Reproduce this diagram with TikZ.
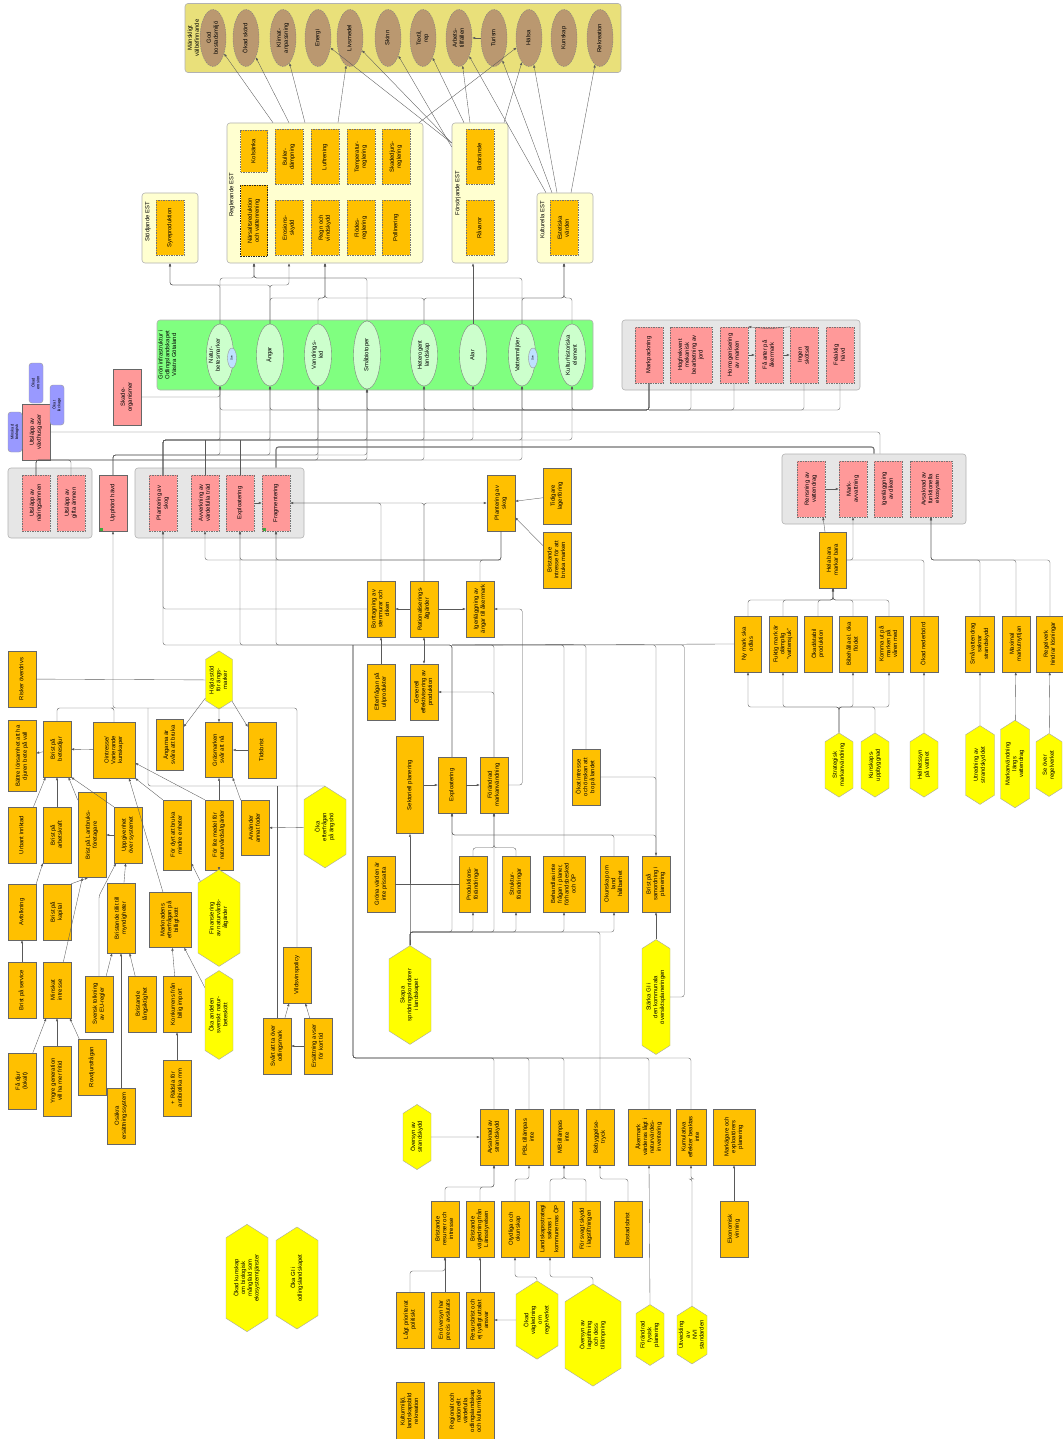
\documentclass[tikz,border=0pt]{standalone}
\usepackage{fontspec}
\setmainfont{Liberation Sans}
\usepackage{graphicx}
\usetikzlibrary{arrows.meta, shapes.geometric, shapes.symbols}
\definecolor{GoodsPanel}{RGB}{233,224,122}
\definecolor{GoodsFill}{RGB}{186,152,112}
\definecolor{EstPanel}{RGB}{255,255,208}
\definecolor{EstOrange}{RGB}{255,192,0}
\definecolor{PressPink}{RGB}{255,153,153}
\definecolor{InfraGreen}{RGB}{128,255,128}
\definecolor{InfraLight}{RGB}{204,255,204}
\definecolor{PanelGray}{RGB}{230,230,230}
\definecolor{ActYellow}{RGB}{255,255,0}
\definecolor{NoteBlue}{RGB}{153,153,255}
\definecolor{SubBlue}{RGB}{190,225,255}
\definecolor{MarkGreen}{RGB}{60,170,60}
\newcommand{\vt}[1]{\rotatebox{90}{\begin{tabular}{@{}c@{}}#1\end{tabular}}}

\begin{document}
\begin{tikzpicture}[
    x=1pt, y=-1pt,
    font=\fontsize{5.9}{6.8}\selectfont,
    sz/.style 2 args={minimum width=#1pt, minimum height=#2pt},
    panel/.style={draw=black!30, line width=0.6pt, rounded corners=3pt, inner sep=0pt},
    goodsbox/.style={panel, fill=GoodsPanel},
    estbox/.style={panel, fill=EstPanel},
    greenbox/.style={panel, fill=InfraGreen},
    graybox/.style={panel, fill=PanelGray},
    paneltitle/.style={inner sep=0pt},
    good/.style={ellipse, draw=black!50, dash pattern=on 1.5pt off 1pt, fill=GoodsFill, inner sep=0pt, sz={26}{57}},
    infra/.style={ellipse, draw=black!50, fill=InfraLight, inner sep=0pt, sz={27}{62}},
    sub/.style={ellipse, draw=black!40, fill=SubBlue, inner sep=0pt, sz={9}{20}, font=\fontsize{3}{3.5}\selectfont},
    service/.style={draw=black!55, dash pattern=on 1.5pt off 1pt, fill=EstOrange, inner sep=0pt, sz={28}{55}},
    pressure/.style={draw=black!55, dash pattern=on 1.5pt off 1pt, fill=PressPink, inner sep=0pt, sz={28}{56}},
    effect/.style={draw=black!60, fill=PressPink, inner sep=0pt, sz={28}{56}},
    note/.style={draw=black!40, fill=NoteBlue, rounded corners=3pt, inner sep=0pt, sz={14}{40}, font=\fontsize{4}{4.6}\selectfont},
    cause/.style={draw=black!60, fill=EstOrange, inner sep=0pt, sz={28}{56}},
    action/.style={signal, signal to=north and south, signal pointer angle=115, draw=black!35, fill=ActYellow, inner sep=0pt, sz={28}{56}},
    flag/.style={fill=MarkGreen, minimum size=3pt, inner sep=0pt},
    link/.style={draw=black!65, line width=0.35pt, rounded corners=2.5pt, -{Latex[length=3pt, width=2.4pt]}},
    twoway/.style={{Latex[length=3pt, width=2.4pt]}-{Latex[length=3pt, width=2.4pt]}},
    wire/.style={draw=black!65, line width=0.35pt, rounded corners=2.5pt},
    thickwire/.style={draw=black!55, line width=1.1pt, rounded corners=2.5pt},
]
\fill[white] (0,0) rectangle (1062,1439);
\useasboundingbox (0,0) rectangle (1062,1439);

% paneler
\node[goodsbox, sz={436}{69}] (goods) at (403,38) {};
\node[paneltitle] at (194,38) {\vt{Mänskligt\\välbefinnande}};
\node[estbox, sz={56}{70}] (stod) at (170,228) {};
\node[paneltitle] at (148,222) {\vt{Stödjande EST}};
\node[estbox, sz={196}{140}] (reg) at (325,193) {};
\node[paneltitle] at (232,195) {\vt{Reglerande EST}};
\node[estbox, sz={56}{140}] (fors) at (480,193) {};
\node[paneltitle] at (458,193) {\vt{Försörjande EST}};
\node[estbox, sz={56}{70}] (kult) at (565,228) {};
\node[paneltitle] at (543,220) {\vt{Kulturella EST}};
\node[greenbox, sz={436}{70}] (infra) at (375,355) {};
\node[paneltitle] at (168,355) {\vt{Grön infrastruktur i\\Odlingslandskapet\\Västra Götaland}};
\node[graybox, sz={238}{70}] (tryckA) at (741,355) {};
\node[graybox, sz={84}{70}] (tryckB) at (50,503) {};
\node[graybox, sz={169}{70}] (tryckC) at (219.5,503) {};
\node[graybox, sz={184}{70}] (tryckD) at (874,489) {};

% mänskligt välbefinnande
\node[good] (g1) at (213,38) {\vt{God\\bostadsmiljö}};
\node[good] (g2) at (246,38) {\vt{Ökad skörd}};
\node[good] (g3) at (283,38) {\vt{Klimat-\\anpassning}};
\node[good] (g4) at (318,38) {\vt{Energi}};
\node[good] (g5) at (350,38) {\vt{Livsmedel}};
\node[good] (g6) at (388,38) {\vt{Skinn}};
\node[good] (g7) at (423,38) {\vt{Textil,\\rep}};
\node[good] (g8) at (459,38) {\vt{Arbets-\\tillfällen}};
\node[good] (g9) at (494,38) {\vt{Turism}};
\node[good] (g10) at (529,38) {\vt{Hälsa}};
\node[good] (g11) at (564,38) {\vt{Kunskap}};
\node[good] (g12) at (600,38) {\vt{Rekreation}};

% ekosystemtjänster
\node[service, sz={27}{42}] (kolsanka) at (254,151) {\vt{Kolsänka}};
\node[service] (buller) at (289,157) {\vt{Buller-\\dämpning}};
\node[service] (luft) at (325,157) {\vt{Luftrening}};
\node[service] (temp) at (361,157) {\vt{Temperatur-\\reglering}};
\node[service] (skadedj) at (396,157) {\vt{Skadedjurs-\\reglering}};
\node[service, sz={27}{71}, draw=black!85] (narsalt) at (254,221) {\vt{Närsaltsreduktion\\och vattenrening}};
\node[service] (erosion) at (289,228) {\vt{Erosions-\\skydd}};
\node[service] (regn) at (325,228) {\vt{Regn och\\vindskydd}};
\node[service] (flodes) at (361,228) {\vt{Flödes-\\reglering}};
\node[service] (pollin) at (396,228) {\vt{Pollinering}};
\node[service] (syre) at (170,228) {\vt{Syreproduktion}};
\node[service] (bio) at (480,157) {\vt{Biobränsle}};
\node[service] (ravara) at (480,228) {\vt{Råvaror}};
\node[service] (estet) at (564,228) {\vt{Estetiska\\värden}};

% grön infrastruktur
\node[infra] (natbete) at (220,355) {};
\node[sub] (natsub) at (232,358) {\vt{Sve}};
\node[paneltitle] at (215,355) {\vt{Natur-\\betesmarker}};
\node[infra] (angar) at (270,355) {\vt{Ängar}};
\node[infra] (vandr) at (318,355) {\vt{Vandrings-\\led}};
\node[infra, sz={27}{68}] (smabio) at (367,355) {\vt{Småbiotoper}};
\node[infra] (hetero) at (424,355) {\vt{Heterogent\\landskap}};
\node[infra] (alar) at (473,355) {\vt{Alar}};
\node[infra] (vatten) at (522,355) {};
\node[sub] (vatsub) at (533,358) {\vt{Sve}};
\node[paneltitle] at (518,355) {\vt{Vattenmiljöer}};
\node[infra] (kulthist) at (572,355) {\vt{Kulturhistoriska\\element}};

% påverkan, övre högra panelen
\node[pressure] (markpack) at (649,355) {\vt{Markpackning}};
\node[pressure, sz={42}{56}] (hogfrek) at (691,355) {\vt{Högfrekvent\\mekanisk\\bearbetning av\\jord}};
\node[pressure] (homogen) at (734,355) {\vt{Homogenisering\\av marken}};
\node[pressure] (faarter) at (769,355) {\vt{Få arter på\\åkermark}};
\node[pressure] (skotsel) at (804,355) {\vt{Ingen\\skötsel}};
\node[pressure] (felhavd) at (840,355) {\vt{Felaktig\\hävd}};

% påverkan, vänster
\node[effect] (vaxthus) at (36,432) {\vt{Utsläpp av\\växthusgaser}};
\node[note] (ok1) at (36,383) {\vt{Ökad\\erosion}};
\node[note] (ok2) at (57,405) {\vt{Ökat\\läckage}};
\node[note] (ok3) at (15,432) {\vt{Minskad\\biologisk}};
\node[effect] (skade) at (127,397) {\vt{Skade-\\organismer}};
\node[pressure] (naring) at (36,503) {\vt{Utsläpp av\\näringsämnen}};
\node[pressure] (gift) at (71,503) {\vt{Utsläpp av\\gifta ämnen}};
\node[effect] (upphord) at (113,503) {\vt{Upphörd hävd}};
\node[flag] at (101,529) {};
\node[pressure] (plantL) at (163,503) {\vt{Plantering av\\skog}};
\node[pressure] (avverk) at (205,503) {\vt{Avverkning av\\värdefulla träd}};
\node[pressure] (exploL) at (240,503) {\vt{Exploatering}};
\node[pressure] (fragm) at (276,503) {\vt{Fragmentering}};
\node[flag] at (264,529) {};

% orsaker, mitten
\node[cause] (plantR) at (501,503) {\vt{Plantering av\\skog}};
\node[cause] (tidigare) at (557,496) {\vt{Tidigare\\lagerföring}};
\node[cause] (bristint) at (557,560) {\vt{Bristande\\intresse för att\\bruka marken}};
\node[cause] (borttag) at (381,609) {\vt{Borttagning av\\stenmurar och\\diken}};
\node[cause] (ration) at (424,609) {\vt{Rationaliserings-\\åtgärder}};
\node[cause] (igenv) at (480,609) {\vt{Igenläggning av\\ängar till åkermark}};
\node[cause] (efterfr) at (381,692) {\vt{Efterfrågan på\\ullprodukter}};
\node[cause] (generell) at (424,692) {\vt{Generell\\effektivisering av\\produktion}};
\node[cause, sz={27}{97}] (sektoriell) at (410,785) {\vt{Sektoriell planering}};
\node[cause] (exploM) at (452,785) {\vt{Exploatering}};
\node[cause] (forandr) at (494,785) {\vt{Förändrad\\markanvändning}};
\node[cause] (okatint) at (586,777) {\vt{Ökat intresse\\och önskan att\\bo på landet}};
\node[cause] (grona) at (381,884) {\vt{Gröna värden är\\inte prissatta}};
\node[cause] (prodf) at (473,884) {\vt{Produktions-\\förändringar}};
\node[cause] (strukf) at (516,884) {\vt{Struktur-\\förändringar}};
\node[cause, sz={42}{56}] (behandl) at (564,884) {\vt{Behandlas inte\\frågan i planer,\\förhandsbesked\\och ÖP}};
\node[cause] (okunskap) at (614,884) {\vt{Okunskap om\\land\\hållbarhet}};
\node[cause] (bristsam) at (656,884) {\vt{Brist på\\samordning i\\planering}};
\node[action, sz={42}{85}] (skapa) at (410,995) {\vt{Skapa\\spridningskorridorer\\i landskapet}};
\node[action, sz={28}{110}] (starka) at (656,997) {\vt{Stärka GI i\\den kommunala\\översiktsplaneringen}};

% orsaker, nederst
\node[action] (oversynStr) at (417,1137) {\vt{Översyn av\\strandskydd}};
\node[cause] (avsaknad) at (494,1137) {\vt{Avsaknad av\\strandskydd}};
\node[cause] (pbl) at (529,1137) {\vt{PBL tillämpas\\inte}};
\node[cause] (mb) at (564,1137) {\vt{MB tillämpas\\inte}};
\node[cause] (bebygg) at (600,1137) {\vt{Bebyggelse-\\tryck}};
\node[cause, sz={42}{56}] (akermark) at (649,1137) {\vt{Åkermark\\värderas lågt i\\naturvärdes-\\inventering}};
\node[cause, sz={30}{56}] (kumul) at (691,1137) {\vt{Kumulativa\\effekter beaktas\\inte}};
\node[cause, sz={42}{56}] (markag) at (734,1137) {\vt{Markägare och\\exploatörers\\planering}};
\node[cause] (bristres) at (445,1229) {\vt{Bristande\\resurser och\\intresse}};
\node[cause] (bristvag) at (480,1229) {\vt{Bristande\\vägledning från\\Länsstyrelsen}};
\node[cause] (otydl) at (515,1229) {\vt{Otydliga och\\okunskap}};
\node[cause] (landsk) at (550,1229) {\vt{Landskapsstrategi\\saknas i\\kommunernas ÖP}};
\node[cause] (svagt) at (586,1229) {\vt{För svagt skydd\\i lagstiftningen}};
\node[cause] (bostad) at (628,1229) {\vt{Bostadsbrist}};
\node[cause] (ekon) at (734,1229) {\vt{Ekonomisk\\vinning}};
\node[cause] (lagtprio) at (410,1320) {\vt{Lågt prioriterat\\politiskt}};
\node[cause] (enoversyn) at (445,1320) {\vt{En översyn har\\precis avslutats}};
\node[cause] (resursbrist) at (480,1320) {\vt{Resursbrist och\\ej tydligt uttalat\\ansvar}};
\node[action, sz={42}{69}] (okadvag) at (537,1320) {\vt{Ökad\\vägledning\\om\\regelverket}};
\node[action, sz={56}{84}] (oversynLag) at (593,1335) {\vt{Översyn av\\lagstiftning\\och dess\\tillämpning}};
\node[action] (forfys) at (650,1335) {\vt{Förändrad\\fysisk\\planering}};
\node[action, sz={30}{56}] (utvNVI) at (692,1335) {\vt{Utveckling\\av\\NVI\\standarden}};
\node[cause, sz={28}{57}] (kulturm) at (410,1411) {\vt{Kulturmiljö,\\landskapsbild\\rekreation}};
\node[cause, sz={56}{57}] (regional) at (466,1411) {\vt{Regionalt och\\nationellt\\värdefulla\\odlingslandskap\\och kulturmiljöer}};
\node[action, sz={42}{98}] (okadkun) at (247,1278) {\vt{Ökad kunskap\\om biologisk\\mångfald som\\ekosystemtjänster}};
\node[action, sz={42}{84}] (okaGI) at (297,1278) {\vt{Öka GI i\\odlingslandskapet}};

% orsaker, vänster kluster
\node[cause] (risker) at (22,679) {\vt{Risker överdrivs}};
\node[action, sz={27}{54}] (hojda) at (219,680) {\vt{Höjda stöd\\för ängs-\\marker}};
\node[cause, sz={28}{71}] (battre) at (22,756) {\vt{Bättre lönsamhet att ha\\djuren bete på vall}};
\node[cause] (bristbete) at (57,749) {\vt{Brist på\\betesdjur}};
\node[cause, sz={42}{56}] (ointr) at (114,750) {\vt{Ointresse/\\Varierande\\kunskaper}};
\node[cause, sz={27}{51}] (angarna) at (170,745) {\vt{Ängarna är\\svåra att bruka}};
\node[cause, sz={27}{55}] (grasm) at (219,750) {\vt{Gräsmarken\\svår att nå}};
\node[cause] (tids) at (262,750) {\vt{Tidsbrist}};
\node[cause] (urbant) at (22,835) {\vt{Urbant inriktad}};
\node[cause] (bristarb) at (57,835) {\vt{Brist på\\arbetskraft}};
\node[cause, sz={28}{85}] (bristlant) at (92,835) {\vt{Brist på Lantbruks-\\företagare}};
\node[cause] (uppgiv) at (128,835) {\vt{Uppgivenhet\\över systemet}};
\node[cause, sz={28}{70}] (fordyrt) at (177,835) {\vt{För dyrt att bruka\\mindre enheter}};
\node[cause, sz={28}{70}] (forlite) at (219,835) {\vt{För lite medel för\\naturvårdsåtgärder}};
\node[cause, sz={28}{55}] (anvander) at (255,828) {\vt{Använder\\annat foder}};
\node[action, sz={42}{68}] (okaeft) at (325,827) {\vt{Öka\\efterfrågan\\på ängshö}};
\node[cause] (avfolk) at (22,912) {\vt{Avfolkning}};
\node[cause] (bristkap) at (57,912) {\vt{Brist på\\kapital}};
\node[cause, sz={28}{70}] (bristtill) at (121,918) {\vt{Bristande tillit till\\myndigheter}};
\node[cause, sz={42}{55}] (marknad) at (170,920) {\vt{Marknadens\\efterfrågan på\\billigt kött}};
\node[action, sz={42}{83}] (finans) at (219,918) {\vt{Finansiering\\av naturvårds-\\åtgärder}};
\node[cause] (bristserv) at (22,990) {\vt{Brist på service}};
\node[cause] (minskat) at (57,990) {\vt{Minskat\\intresse}};
\node[cause] (svensk) at (99,1004) {\vt{Svensk tolkning\\av EU-regler}};
\node[cause] (langsikt) at (142,1004) {\vt{Bristande\\långsiktighet}};
\node[cause] (konkurr) at (177,1004) {\vt{Konkurrens från\\billig import}};
\node[action, sz={28}{84}] (okaand) at (219,1015) {\vt{Öka andelen\\svenskt natur-\\beteskött}};
\node[cause] (vilds) at (297,975) {\vt{Vildsvinspolicy}};
\node[cause] (svart) at (277,1046) {\vt{Svårt att ta över\\odlingsmark}};
\node[cause] (ersatt) at (318,1046) {\vt{Ersättning avser\\för kort tid}};
\node[cause] (fa) at (22,1081) {\vt{Få djur\\(lokalt)}};
\node[cause, sz={28}{70}] (yngre) at (57,1081) {\vt{Yngre generation\\vill ha mer fritid}};
\node[cause] (rovdjur) at (92,1067) {\vt{Rovdjursfrågan}};
\node[cause] (osakra) at (121,1116) {\vt{Osäkra\\ersättningssystem}};
\node[cause] (radsla) at (177,1088) {\vt{+ Rädsla för\\antibiotika mm}};

% orsaker, höger kluster
\node[pressure] (rensn) at (811,489) {\vt{Rensning av\\vattendrag}};
\node[pressure] (markavv) at (853,489) {\vt{Mark-\\avvattning}};
\node[pressure] (igenl) at (888,489) {\vt{Igenläggning\\av diken}};
\node[pressure, sz={42}{56}] (avsakfunk) at (931,489) {\vt{Avsaknad av\\funktionella\\ekosystem}};
\node[cause, sz={27}{56}] (hela) at (833,560) {\vt{Hela bara\\markar bara}};
\node[cause, sz={27}{56}] (nymark) at (748,644) {\vt{Ny mark ska\\odlas}};
\node[cause] (fuktig) at (783,644) {\vt{Fuktig mark är\\olämplig\\``vattensjuk''}};
\node[cause] (okadprod) at (818,644) {\vt{Ökad/stabil\\produktion}};
\node[cause] (bibeh) at (853,644) {\vt{Bibehålla el. öka\\flödet}};
\node[cause] (komma) at (889,644) {\vt{Komma ut på\\marken på\\våren med}};
\node[cause] (nederb) at (924,644) {\vt{Ökad nederbörd}};
\node[cause, sz={29}{56}] (smavatt) at (980,644) {\vt{Små vattendrag\\saknar\\strandskydd}};
\node[cause] (maxmark) at (1016,644) {\vt{Maximal\\markutnyttjan}};
\node[cause, sz={27}{56}] (regelv) at (1050,644) {\vt{Regelverk\\hindrar lösningar}};
\node[action, sz={28}{55}] (strat) at (839,765) {\vt{Strategisk\\markanvändning}};
\node[action, sz={28}{55}] (kunsk) at (875,765) {\vt{Kunskaps-\\uppbyggnad}};
\node[action, sz={28}{55}] (helhet) at (924,765) {\vt{Helhetssyn\\på vattnet}};
\node[action, sz={29}{69}] (utvstr) at (980,765) {\vt{Utredning av\\strandskyddet}};
\node[action, sz={29}{82}] (markanv) at (1015,764) {\vt{Markanvändning\\längs\\vattendrag}};
\node[action, sz={26}{55}] (seover) at (1049,765) {\vt{Se över\\regelverket}};

% bussnivåer
\coordinate (up278) at (0,278);
\coordinate (up285) at (0,285);
\coordinate (up298) at (0,298);
\coordinate (dn410) at (0,410);
\coordinate (dn440) at (0,440);
\coordinate (dn447) at (0,447);
\coordinate (dn455) at (0,455);
\coordinate (dn460) at (0,460);
\coordinate (dn560) at (0,560);
\coordinate (dn600) at (0,600);
\coordinate (dn645) at (0,645);
\coordinate (dn707) at (0,707);
\coordinate (dn708) at (0,708);
\coordinate (dn835) at (0,835);
\coordinate (dn932) at (0,932);
\coordinate (dn1058) at (0,1058);
\coordinate (dn1179) at (0,1179);
\coordinate (dn1187) at (0,1187);
\coordinate (dn1271) at (0,1271);
\coordinate (dn1277) at (0,1277);
\coordinate (trunk) at (353,0);
\coordinate (gap) at (148,0);

% ekosystemtjänster -> välbefinnande
\draw[link] ([xshift=-52pt]reg.north) -- (g1);
\draw[link] ([xshift=-36pt]reg.north) -- (g2);
\draw[link] ([xshift=-20pt]reg.north) -- (g3);
\draw[link] ([xshift=13pt]reg.north) -- (g5);
\draw[link] ([xshift=94pt]reg.north) -- (g10);
\draw[link] ([yshift=50pt]fors.west) -- (g4);
\draw[link] ([yshift=50pt]fors.west) -- (g5);
\draw[link] ([yshift=46pt]fors.west) -- (g6);
\draw[link] ([xshift=-16pt]fors.north) -- (g7);
\draw[link] ([xshift=-10pt]fors.north) -- (g8);
\draw[link] ([xshift=24pt]fors.north) -- (g10);
\draw[link] ([xshift=-19pt]kult.north) -- (g8);
\draw[link] ([xshift=-13pt]kult.north) -- (g9);
\draw[link] ([xshift=-8pt]kult.north) -- (g10);
\draw[link] ([xshift=6pt]kult.north) -- (g12);
\draw[link] (g9) -- (g8);

% grön infrastruktur -> ekosystemtjänster
\foreach \s in {natbete,angar}
  \draw[link] (\s.north) |- (up285 -| stod) -- (stod.south);
\foreach \s in {natbete,smabio,vatten}
  \draw[link] (\s.north) |- (up278 -| narsalt) -- (reg.south -| narsalt);
\foreach \s in {angar,vandr,hetero}
  \draw[link] (\s.north) |- (up298 -| regn) -- (reg.south -| regn);
\draw[link] (angar.north) |- (up285 -| buller) -- (reg.south -| buller);
\draw[link] (alar.north) -- (fors.south -| alar);
\foreach \s in {hetero,vatten,kulthist}
  \draw[link] (\s.north) |- (up298 -| estet) -- (kult.south -| estet);

% påverkan -> grön infrastruktur
\foreach \t in {natbete,angar,vandr,smabio,hetero,alar,vatten,kulthist}
  \draw[link] (markpack.south) |- (dn410 -| \t) -- (\t.south);
\foreach \s in {hogfrek,homogen,skotsel,felhavd}
  \draw[wire] (\s.south) |- (dn410 -| markpack);
\foreach \t in {natbete,angar,vandr,smabio,hetero,alar,vatten,kulthist}
  \draw[link] (plantL.north) |- (dn440 -| \t) -- (\t.south);
\foreach \s in {avverk,exploL}
  \draw[wire] (\s.north) -- (\s.north |- dn440);
\foreach \t in {natbete,angar,vandr,smabio}
  \draw[link] (upphord.north) |- (dn455 -| \t) -- (\t.south);
\foreach \t in {vandr,smabio,hetero,vatten}
  \draw[link] (naring.north) |- (dn460 -| \t) -- (\t.south);
\draw[wire] (gift.north) |- (dn460 -| naring);
\draw[link] (skade.east) -| (natbete.south);
\draw[wire] (vaxthus.east) -| ([xshift=6pt]tryckD.north);
\draw[thickwire] (tryckD.north) |- (dn447 -| fragm) -- (tryckC.north -| fragm);
\draw[link] (homogen) -- (faarter);
\draw[link] (faarter) -- (skotsel);
\draw[link] ([yshift=-2pt]faarter.north) -- (homogen.north east);
\draw[wire] ([yshift=-2pt]faarter.north) -- (skotsel.north west);

% mitten
\draw[link] (exploL) -- (fragm);
\draw[link] (ration.north) |- (fragm.east);
\draw[link] (ration.north) |- (plantR.west);
\draw[wire] (borttag.north) |- (fragm.east);
\draw[link] (tidigare) -- (plantR);
\draw[link] (bristint) -- (plantR);
\draw[link] (efterfr) -- (borttag);
\draw[link] (ration) -- (borttag);
\draw[link] (ration) -- (igenv);
\draw[link, twoway] (ration) -- (generell);
\foreach \t in {avverk,exploL,fragm}
  \draw[link] (plantR.south) |- (dn560 -| \t) -- (\t.south);
\draw[wire] (igenv.north) |- (dn560 -| plantR);
\draw[link] (borttag.west) -| (plantL.south);
\foreach \t in {plantL,exploL,fragm}
  \draw[link] (exploM.north) |- (dn645 -| \t) -- (\t.south);
\foreach \s in {forandr,behandl,okatint,bristsam}
  \draw[wire] (\s.north) |- (dn645 -| exploM);
\draw[wire] (nymark.west) -- (dn645 -| exploM);
\draw[wire] (starka.east) -- ++(14,0) |- (dn645 -| bristsam);
\foreach \s in {avsaknad,pbl,mb,akermark,kumul}
  \draw[wire] (\s.north) |- (trunk |- dn1058) -- (trunk |- dn645);
\draw[link] (sektoriell) -- (exploM);
\draw[link] (exploM) -- (forandr);
\draw[link] (forandr.east) -- ++(14,0) |- (igenv.east);
\draw[link] (forandr.north) |- (generell.east);
\draw[link] (okatint.east) -| (bristsam.north);
\foreach \s in {prodf,strukf}
  \draw[link] (\s.north) -- ++(0,-8) -| (forandr.south);
\draw[wire] (grona) -- (prodf);
\foreach \t in {sektoriell,exploM,forandr,prodf,strukf,behandl,okunskap}
  \draw[link] (skapa.north) |- (dn932 -| \t) -- (\t.south);
\draw[wire] (bebygg.north) |- (dn932 -| skapa);
\foreach \s in {okunskap,bristsam}
  \draw[link] (\s.north) |- (dn835 -| exploM) -- (exploM.south);
\draw[link] (starka.north) -- (bristsam.south);

% nederst
\draw[link] (oversynStr) -- (avsaknad);
\foreach \s/\t in {bristres/avsaknad,bristvag/avsaknad}
  \draw[link] (\s.north) |- (dn1187 -| \t) -- (\t.south);
\foreach \s/\t in {otydl/pbl,landsk/mb,svagt/mb,bostad/bebygg,utvNVI/kumul}
  \draw[link] (\s.north) |- (dn1179 -| \t) -- (\t.south);
\draw[link] (ekon) -- (markag);
\draw[link] (forfys.north) -- (akermark.south);
\draw[link] (oversynLag.north) |- (dn1277 -| landsk) -- (landsk.south);
\draw[link] (okadvag.north) |- (dn1277 -| otydl) -- (otydl.south);
\draw[link] (okadvag) -- (resursbrist);
\draw[link] (enoversyn) -- (bristres);
\draw[link] (lagtprio.north) |- (dn1271 -| bristres) -- (bristres.south);
\draw[link] (resursbrist) -- (bristvag);

% vänster kluster
\draw[wire] (risker) -- (hojda);
\draw[link] (hojda) -- (angarna);
\draw[link] (hojda) -- (grasm);
\draw[link] (hojda) -- (tids);
\draw[link] (bristbete) -- (battre);
\draw[link] (ointr) -- (bristbete);
\draw[link] (tids) -- (grasm);
\draw[link] (urbant) -- (bristbete);
\draw[link] (bristarb) -- (bristbete);
\draw[link] (bristlant) -- (bristbete);
\draw[link] (uppgiv.north west) -- (bristbete.south east);
\draw[link] (uppgiv) -- (bristlant);
\draw[link] (avfolk.north east) -- (bristarb.south west);
\draw[link] (bristkap.north east) -- ([xshift=-4pt]bristlant.south);
\draw[link] (minskat) -- (bristlant);
\draw[link] (bristserv) -- (avfolk);
\draw[link] (bristtill) -- (uppgiv);
\draw[link] (svensk.north) -- ++(0,-80) -- ([xshift=-12pt]uppgiv.south);
\draw[link] (svensk) -- (bristtill);
\draw[link] (langsikt) -- (bristtill);
\draw[link] (osakra) -- (bristtill);
\foreach \s in {fa,yngre,rovdjur}
  \draw[link] (\s) -- (minskat);
\draw[link] (konkurr) -- (marknad);
\draw[link] (radsla) -- (konkurr);
\draw[link] (okaand) -- (marknad);
\draw[link] ([xshift=-7pt]marknad.north) -- ([xshift=15pt]ointr.south);
\draw[link] (fordyrt.north west) -- (ointr.south east);
\draw[link] (forlite.north west) -- ([yshift=-13pt]ointr.east);
\draw[link] (finans) -- (fordyrt);
\draw[link] (finans) -- (forlite);
\draw[link] (forlite) -- (grasm);
\draw[link] (anvander.north west) -- (grasm.south east);
\draw[link] (okaeft) -- (anvander);
\draw[link] (svart) -- (vilds);
\draw[link] (ersatt) -- (vilds);
\draw[link] (ersatt) -- (svart);
\draw[link] (vilds.north) |- (dn708 -| upphord) -- (upphord.south);
\foreach \s in {bristbete,ointr}
  \draw[wire] (\s.north) |- (dn708 -| upphord);
\draw[wire] (okaeft.north) -| (gap |- dn708);
\draw[wire] (svart.north) -- (svart.north |- okaeft.north);

% höger kluster
\draw[link] (rensn) -- (markavv);
\draw[link] ([xshift=-8pt]hela.north) -- ([xshift=12pt]rensn.south);
\draw[link] (hela.east) -| (markavv.south);
\draw[wire] (nederb.north) |- (hela.east);
\foreach \s in {smavatt,maxmark,regelv}
  \draw[link] (\s.north) |- (dn560 -| avsakfunk) -- (avsakfunk.south);
\foreach \s in {nymark,fuktig,okadprod,bibeh,komma}
  \draw[link] (\s.north) |- (dn600 -| hela) -- (hela.south);
\foreach \t in {nymark,fuktig,bibeh,komma}
  \draw[link] (strat.north) |- (dn707 -| \t) -- (\t.south);
\draw[wire] (kunsk.north) |- (dn707 -| strat);
\draw[link] (helhet) -- (nederb);
\draw[link] (utvstr) -- (smavatt);
\draw[link] (markanv) -- (maxmark);
\draw[link] (seover) -- (regelv);
\end{tikzpicture}
\end{document}
